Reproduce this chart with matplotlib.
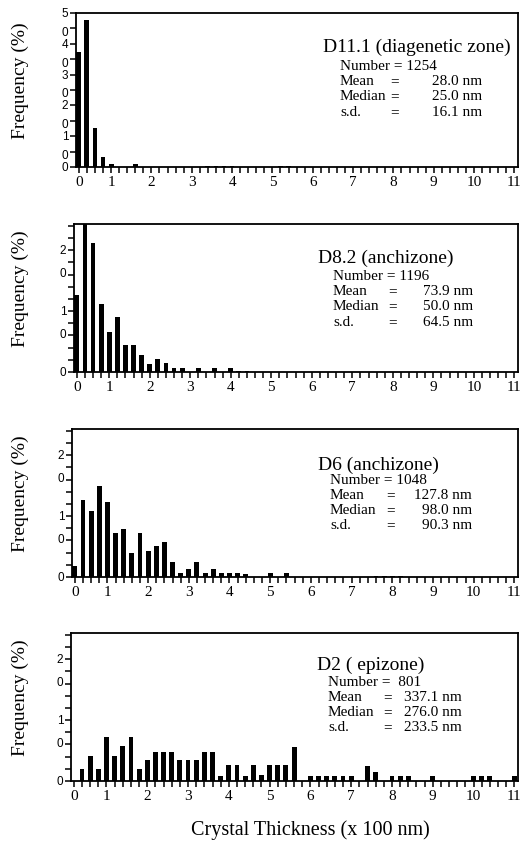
import numpy as np
import matplotlib
matplotlib.use("Agg")
from matplotlib import pyplot as plt
from matplotlib.ticker import MultipleLocator
from matplotlib.transforms import blended_transform_factory, offset_copy

# crystal thickness bins (x 100 nm) and frequencies (%)
d11_x = [0.2, 0.4, 0.6, 0.8, 1.0, 1.6, 3.4, 3.6, 3.8, 4.0, 5.2, 5.4]
d11_freq = [37.5, 47.8, 12.7, 3.1, 1.1, 1.0, 0.3, 0.3, 0.3, 0.3, 0.3, 0.3]

d82_x = [0.2, 0.4, 0.6, 0.8, 1.0, 1.2, 1.4, 1.6, 1.8, 2.0, 2.2, 2.4, 2.6, 2.8,
         3.2, 3.6, 4.0, 4.2, 4.4]
d82_freq = [12.6, 24.3, 21.1, 11.1, 6.5, 9.1, 4.5, 4.5, 2.8, 1.3, 2.1, 1.4, 0.7, 0.7,
            0.6, 0.6, 0.7, 0.15, 0.15]

d6_x = [0.2, 0.4, 0.6, 0.8, 1.0, 1.2, 1.4, 1.6, 1.8, 2.0, 2.2, 2.4, 2.6, 2.8,
        3.0, 3.2, 3.4, 3.6, 3.8, 4.0, 4.2, 4.4, 5.0, 5.4, 7.6, 7.8, 8.0, 8.2]
d6_freq = [1.8, 12.7, 10.8, 14.9, 12.3, 7.2, 7.8, 4.0, 7.2, 4.2, 5.1, 5.7, 2.4, 0.6,
           1.3, 2.4, 0.6, 1.3, 0.6, 0.6, 0.6, 0.55, 0.6, 0.6, 0.15, 0.15, 0.15, 0.15]

d2_x = [0.4, 0.6, 0.8, 1.0, 1.2, 1.4, 1.6, 1.8, 2.0, 2.2, 2.4, 2.6, 2.8, 3.0,
        3.2, 3.4, 3.6, 3.8, 4.0, 4.2, 4.4, 4.6, 4.8, 5.0, 5.2, 5.4, 5.6,
        6.0, 6.2, 6.4, 6.6, 6.8, 7.0, 7.4, 7.6, 8.0, 8.2, 8.4, 9.0,
        10.0, 10.2, 10.4, 11.0]
d2_freq = [1.9, 4.1, 1.9, 7.2, 4.1, 5.7, 7.2, 1.9, 3.4, 4.8, 4.8, 4.8, 3.4, 3.4,
           3.4, 4.8, 4.8, 0.9, 2.6, 2.6, 0.9, 2.6, 1.0, 2.6, 2.6, 2.6, 5.6,
           0.9, 0.9, 0.9, 0.9, 0.9, 0.9, 2.5, 1.5, 0.9, 0.9, 0.9, 0.9,
           0.9, 0.9, 0.9, 0.8]

titles = ["D11.1 (diagenetic zone)", "D8.2 (anchizone)", "D6 (anchizone)", "D2 ( epizone)"]
numbers = ["Number = 1254", "Number = 1196", "Number = 1048", "Number =  801"]
means = ["28.0 nm", "73.9 nm", "127.8 nm", "337.1 nm"]
medians = ["25.0 nm", "50.0 nm", "98.0 nm", "276.0 nm"]
sds = ["16.1 nm", "64.5 nm", "90.3 nm", "233.5 nm"]

xtick_pos = [0.2, 1, 2, 3, 4, 5, 6, 7, 8, 9, 10, 11]
xtick_lab = ["0", "1", "2", "3", "4", "5", "6", "7", "8", "9", "10", "11"]

W, H = 526, 845
serif = "Liberation Serif"
sans = "Liberation Sans"

fig = plt.figure(figsize=(W / 100, H / 100), dpi=100)


def px_text(x, y, s, **kw):
    fig.text(x / W, 1 - y / H, s, fontfamily=serif, **kw)


# axes boxes in pixels: left, top, right, bottom
boxes = [(76, 14, 518, 168), (74, 225, 518, 373), (72, 430, 518, 578), (71, 634, 518, 782)]
ytops = [50, 24.3, 24.3, 24.3]
ymajor = [[0, 10, 20, 30, 40, 50], [0, 10, 20], [0, 10, 20], [0, 10, 20]]
yminor = [5, 2, 2, 2]
yspacing = [1.75, 2.2, 2.2, 2.2]
# text layout (pixels): title x, title y, label x, first line y, line step, "=" x, value right x
txt = [(323, 47, 340, 66, 15.4, 395, 482),
       (318, 258, 333, 276, 15.5, 393, 473),
       (318, 465, 330, 481, 14.9, 391, 472),
       (317, 665, 328, 682, 15.2, 388, 462)]

data = [(d11_x, d11_freq), (d82_x, d82_freq), (d6_x, d6_freq), (d2_x, d2_freq)]

for i, (xs, fs) in enumerate(data):
    l, t, r, b = boxes[i]
    ax = fig.add_axes([l / W, 1 - b / H, (r - l) / W, (b - t) / H])
    ax.bar(xs, fs, width=0.12, color="black")
    ax.set_xlim(0.13, 11.09)
    ax.set_ylim(0, ytops[i])
    for sp in ax.spines.values():
        sp.set_linewidth(1.3)

    ax.set_xticks(xtick_pos, xtick_lab)
    ax.xaxis.set_minor_locator(MultipleLocator(0.2))
    ax.set_yticks(ymajor[i])
    ax.yaxis.set_minor_locator(MultipleLocator(yminor[i]))
    ax.tick_params(which="both", direction="out", length=4, width=1.1)
    ax.tick_params(axis="x", which="major", pad=2, labelsize=11)
    ax.tick_params(axis="y", labelleft=False)
    for lb in ax.get_xticklabels():
        lb.set_fontfamily(serif)

    # stacked y tick labels
    base = blended_transform_factory(ax.transAxes, ax.transData)
    for v in ymajor[i]:
        if v == 0:
            tr = offset_copy(base, fig=fig, x=-11, y=0, units="dots")
            ax.text(0, v, "0", transform=tr, ha="center", va="center",
                    fontsize=8.5, fontfamily=sans)
        else:
            tr = offset_copy(base, fig=fig, x=-11, y=6, units="dots")
            ax.text(0, v, "\n".join(str(v)), transform=tr, ha="center", va="top",
                    fontsize=8.5, fontfamily=sans, linespacing=yspacing[i])

    fig.text(20 / W, 1 - ((t + b) / 2 - 10) / H, "Frequency (%)", rotation=90,
             ha="center", va="center", fontsize=14, fontfamily=serif)

    tx, ty, lx, ly, step, eqx, vx = txt[i]
    px_text(tx, ty, titles[i], ha="left", va="center", fontsize=14)
    px_text(lx, ly, numbers[i], ha="left", va="center", fontsize=11)
    for k, (name, val) in enumerate([("Mean", means[i]), ("Median", medians[i]), ("s.d.", sds[i])]):
        yy = ly + step * (k + 1)
        px_text(lx, yy, name, ha="left", va="center", fontsize=11)
        px_text(eqx, yy, "=", ha="center", va="center", fontsize=11)
        px_text(vx, yy, val, ha="right", va="center", fontsize=11)

px_text(310, 830, "Crystal Thickness (x 100 nm)", ha="center", va="center", fontsize=14.5)

fig.savefig("out.png", dpi=100)
